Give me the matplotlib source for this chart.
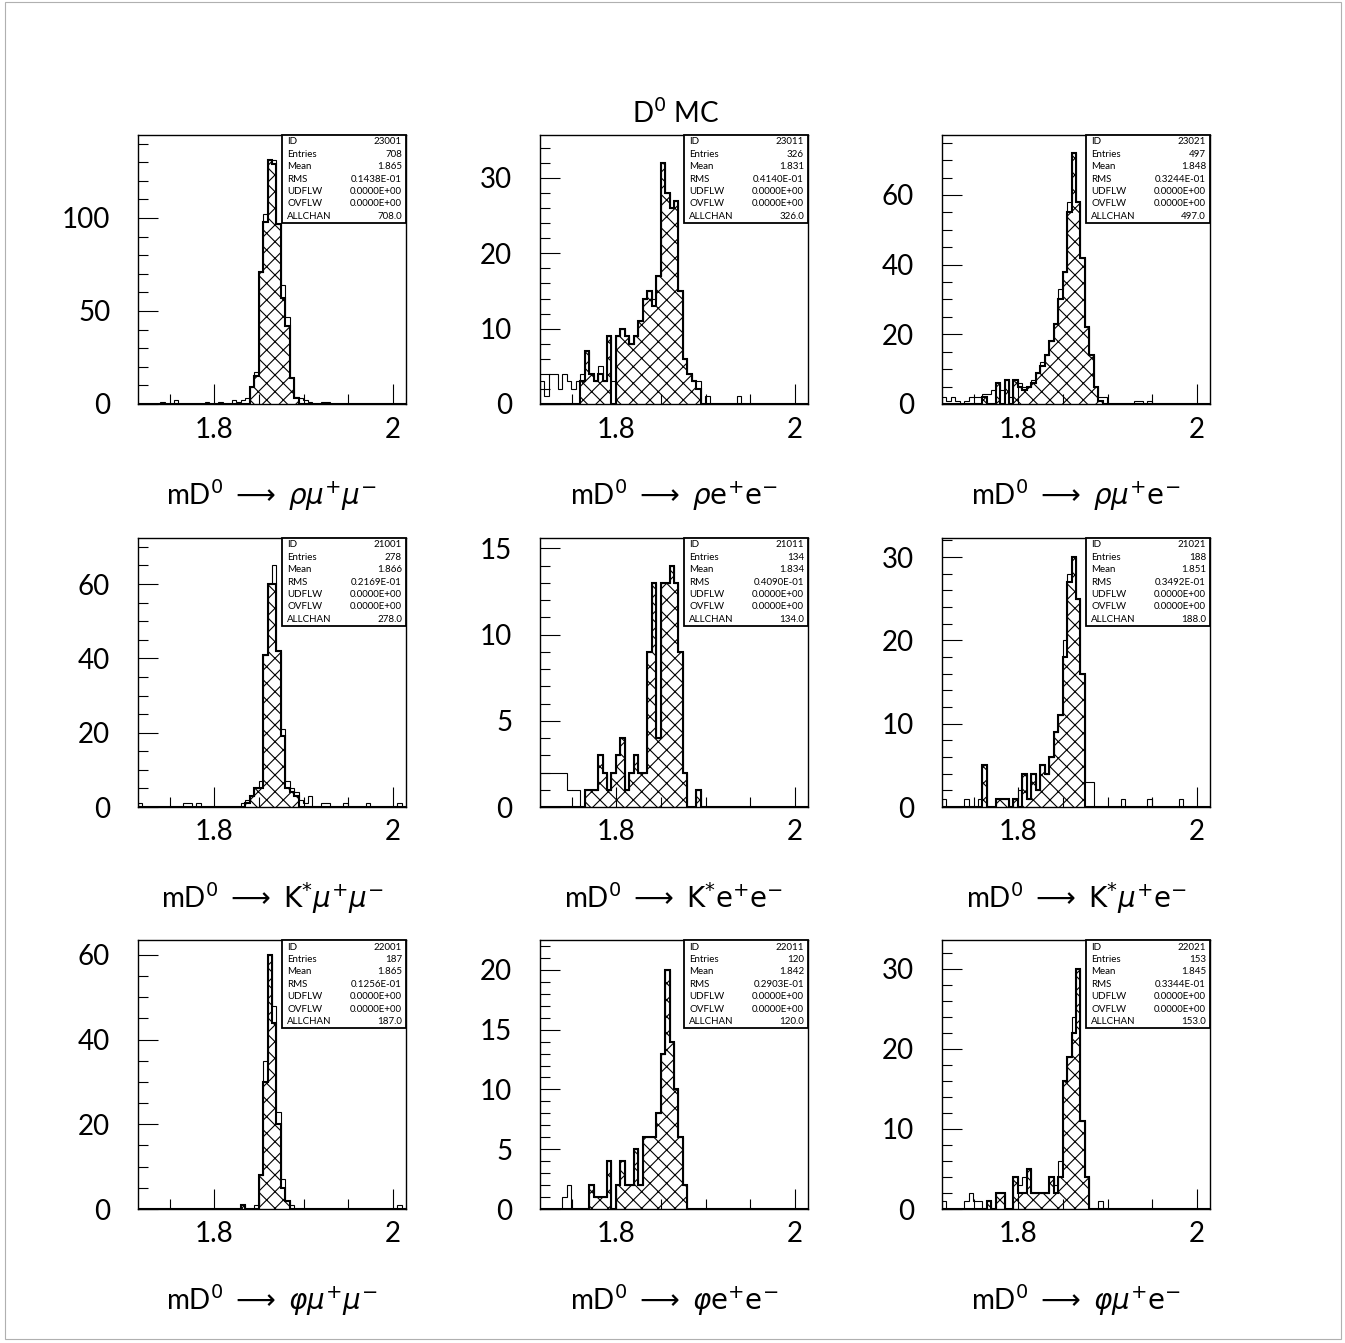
import numpy as np
import matplotlib
matplotlib.use('Agg')
import matplotlib.pyplot as plt
from matplotlib.patches import Rectangle
from matplotlib.ticker import MultipleLocator, FuncFormatter

plt.rcParams['font.family'] = ['Lato', 'DejaVu Sans']
plt.rcParams['mathtext.fontset'] = 'dejavusans'
plt.rcParams['hatch.linewidth'] = 0.8

# mD0 window: 60 bins of 5 MeV, centred on 1.8645
x_lo, x_hi, n_bins = 1.7145, 2.0145, 60

# --- D0 -> rho l l -----------------------------------------------------------
p1_tot = [0, 0, 0, 0, 0, 1, 0, 0, 2, 0,
          0, 0, 0, 0, 0, 1, 0, 0, 1, 0,
          0, 2, 1, 2, 3, 9, 17, 71, 102, 131,
          131, 97, 64, 47, 14, 4, 3, 2, 1, 0,
          0, 1, 1, 0, 0, 0, 0, 0, 0, 0,
          0, 0, 0, 0, 0, 0, 0, 0, 0, 0]
p1_sel = [0] * 20 + [0, 0, 0, 0, 0, 9, 15, 71, 98, 131,
                     129, 97, 57, 42, 14, 3, 0, 0, 0, 0] + [0] * 20

p2_tot = [3, 1, 4, 4, 2, 4, 3, 2, 3, 4,
          7, 4, 3, 5, 3, 9, 3, 9, 10, 9,
          8, 9, 11, 14, 15, 14, 17, 32, 28, 26,
          27, 15, 6, 4, 3, 3, 0, 1, 0, 0,
          0, 0, 0, 0, 1, 0, 0, 0, 0, 0,
          0, 0, 0, 0, 0, 0, 0, 0, 0, 0]
p2_sel = [0, 0, 0, 0, 0, 0, 0, 0, 0, 3,
          7, 4, 3, 4, 3, 9, 0, 9, 10, 9,
          8, 9, 11, 14, 15, 13, 17, 32, 28, 26,
          27, 15, 6, 4, 3, 2, 0, 0, 0, 0] + [0] * 20

p3_tot = [2, 1, 2, 1, 0, 1, 2, 2, 2, 3,
          3, 4, 6, 4, 7, 2, 7, 6, 5, 5,
          7, 9, 12, 14, 18, 23, 33, 38, 58, 72,
          58, 42, 22, 14, 5, 2, 2, 0, 0, 0,
          0, 0, 0, 1, 1, 0, 1, 0, 0, 0,
          0, 0, 0, 0, 0, 0, 0, 0, 0, 0]
p3_sel = [0, 0, 0, 0, 0, 0, 0, 0, 0, 2,
          0, 0, 6, 0, 7, 0, 7, 5, 4, 5,
          6, 9, 11, 14, 18, 23, 30, 38, 55, 72,
          58, 42, 22, 14, 5, 1, 0, 0, 0, 0] + [0] * 20

# --- D0 -> K* l l ------------------------------------------------------------
p4_tot = [1, 0, 0, 0, 0, 0, 0, 0, 0, 0,
          1, 1, 0, 1, 0, 0, 0, 0, 0, 0,
          0, 0, 0, 1, 2, 3, 5, 7, 41, 60,
          65, 42, 21, 7, 5, 4, 2, 1, 3, 0,
          0, 1, 1, 0, 0, 0, 1, 0, 0, 0,
          0, 1, 0, 0, 0, 0, 0, 0, 1, 0]
p4_sel = [0] * 20 + [0, 0, 0, 0, 1, 3, 5, 5, 41, 60,
                     60, 42, 19, 5, 4, 3, 0, 0, 0, 0] + [0] * 20

p5_tot = [2, 2, 2, 2, 2, 2, 1, 1, 1, 0,
          1, 1, 1, 3, 2, 1, 2, 3, 4, 1,
          2, 3, 2, 2, 9, 13, 4, 13, 13, 14,
          13, 9, 2, 0, 0, 1, 0, 0, 0, 0] + [0] * 20
p5_sel = [0] * 10 + p5_tot[10:]

p6_tot = [1, 0, 0, 0, 0, 1, 0, 0, 1, 5,
          0, 0, 1, 1, 1, 0, 1, 2, 4, 1,
          4, 2, 5, 4, 6, 9, 11, 20, 28, 30,
          25, 16, 3, 3, 0, 0, 0, 0, 0, 0,
          1, 0, 0, 0, 0, 0, 1, 0, 0, 0,
          0, 0, 0, 1, 0, 0, 0, 0, 0, 0]
p6_sel = [0, 0, 0, 0, 0, 0, 0, 0, 0, 5,
          0, 0, 1, 1, 1, 0, 1, 0, 4, 1,
          4, 2, 5, 4, 6, 9, 11, 18, 27, 30,
          25, 16, 0, 0, 0, 0, 0, 0, 0, 0] + [0] * 20

# --- D0 -> phi l l -----------------------------------------------------------
p7_tot = [0] * 20 + [0, 0, 0, 1, 0, 0, 1, 8, 35, 60,
                     48, 23, 7, 2, 1, 0, 0, 0, 0, 0] + [0] * 10 + \
         [0, 0, 0, 0, 0, 0, 0, 0, 1, 0]
p7_sel = [0] * 20 + [0, 0, 0, 1, 0, 0, 0, 8, 30, 60,
                     44, 20, 5, 2, 0, 0, 0, 0, 0, 0] + [0] * 20

p8_tot = [0, 0, 0, 0, 0, 1, 2, 0, 0, 0,
          0, 2, 1, 1, 1, 4, 0, 2, 4, 2,
          2, 5, 2, 6, 6, 6, 8, 13, 20, 14,
          10, 6, 2, 0, 0, 0, 0, 0, 0, 0] + [0] * 20
p8_sel = [0] * 10 + p8_tot[10:]

p9_tot = [1, 0, 0, 0, 0, 1, 2, 1, 1, 0,
          1, 0, 2, 2, 0, 0, 4, 3, 4, 5,
          2, 2, 2, 2, 4, 3, 6, 16, 19, 24,
          30, 11, 4, 0, 0, 1, 0, 0, 0, 0] + [0] * 20
p9_sel = [0] * 10 + [1, 0, 2, 2, 0, 0, 4, 2, 2, 5,
                     2, 2, 2, 2, 4, 2, 4, 16, 19, 22,
                     30, 11, 4, 0, 0, 0, 0, 0, 0, 0] + [0] * 20

# HBOOK statistics boxes
hist_id = ['23001', '23011', '23021', '21001', '21011', '21021', '22001', '22011', '22021']
entries = ['708', '326', '497', '278', '134', '188', '187', '120', '153']
means = ['1.865', '1.831', '1.848', '1.866', '1.834', '1.851', '1.865', '1.842', '1.845']
rms = ['0.1438E-01', '0.4140E-01', '0.3244E-01', '0.2169E-01', '0.4090E-01',
       '0.3492E-01', '0.1256E-01', '0.2903E-01', '0.3344E-01']
allchan = ['708.0', '326.0', '497.0', '278.0', '134.0', '188.0', '187.0', '120.0', '153.0']

labels = [r'$\rho\mu^{+}\mu^{-}$', r'$\rho \mathrm{e}^{+}\mathrm{e}^{-}$', r'$\rho\mu^{+}\mathrm{e}^{-}$',
          r'$\mathrm{K}^{*}\mu^{+}\mu^{-}$', r'$\mathrm{K}^{*}\mathrm{e}^{+}\mathrm{e}^{-}$',
          r'$\mathrm{K}^{*}\mu^{+}\mathrm{e}^{-}$',
          r'$\varphi\mu^{+}\mu^{-}$', r'$\varphi \mathrm{e}^{+}\mathrm{e}^{-}$', r'$\varphi\mu^{+}\mathrm{e}^{-}$']

tots = [p1_tot, p2_tot, p3_tot, p4_tot, p5_tot, p6_tot, p7_tot, p8_tot, p9_tot]
sels = [p1_sel, p2_sel, p3_sel, p4_sel, p5_sel, p6_sel, p7_sel, p8_sel, p9_sel]

# axis scale per panel: (ymax, major step, minor step)
yscale = [(144.6, 50, 10), (35.7, 10, 2), (77.2, 20, 5),
          (72.4, 20, 5), (15.6, 5, 1), (32.3, 10, 2),
          (63.5, 20, 5), (22.5, 5, 1), (33.6, 10, 2)]

W, H = 1345, 1343
fig = plt.figure(figsize=(W / 100, H / 100), dpi=100)
fig.patch.set_facecolor('white')

col_x = [138, 540, 942]
row_y = [135, 538, 940]
aw, ah = 268, 269
edges = np.linspace(x_lo, x_hi, n_bins + 1)
fs = 20

for k in range(9):
    r, c = divmod(k, 3)
    ax = fig.add_axes([col_x[c] / W, 1 - (row_y[r] + ah) / H, aw / W, ah / H])
    ymax, ymaj, ymin = yscale[k]

    ax.stairs(tots[k], edges, color='black', lw=0.8, baseline=0, zorder=2)
    ax.stairs(sels[k], edges, fill=True, facecolor='none', edgecolor='black',
              hatch='xx', lw=1.5, baseline=0, zorder=2.5)

    ax.set_xlim(x_lo, x_hi)
    ax.set_ylim(0, ymax)
    ax.xaxis.set_major_locator(MultipleLocator(0.2))
    ax.xaxis.set_minor_locator(MultipleLocator(0.05))
    ax.xaxis.set_major_formatter(FuncFormatter(lambda v, p: '%g' % round(v, 3)))
    ax.yaxis.set_major_locator(MultipleLocator(ymaj))
    ax.yaxis.set_minor_locator(MultipleLocator(ymin))
    ax.tick_params(which='both', direction='in', top=False, right=False, width=0.8)
    ax.tick_params(which='major', length=14.5)
    ax.tick_params(which='minor', length=7.5)
    ax.tick_params(axis='y', which='major', pad=20, labelsize=fs)
    ax.tick_params(axis='x', which='major', pad=9, labelsize=fs)
    for sp in ax.spines.values():
        sp.set_linewidth(1.0)

    # statistics box
    bx0, by0 = 144 / aw, 1 - 88 / ah
    ax.add_patch(Rectangle((bx0, by0), 1 - bx0, 1 - by0, transform=ax.transAxes,
                           facecolor='white', edgecolor='black', lw=1.3, zorder=5,
                           clip_on=False))
    names = ['ID', 'Entries', 'Mean', 'RMS', 'UDFLW', 'OVFLW', 'ALLCHAN']
    vals = [hist_id[k], entries[k], means[k], rms[k], '0.0000E+00', '0.0000E+00', allchan[k]]
    for j in range(7):
        yy = 1 - (7 + 12.4 * j) / ah
        ax.text(bx0 + 5 / aw, yy, names[j], transform=ax.transAxes, fontsize=7,
                ha='left', va='center', zorder=6)
        ax.text(1 - 4 / aw, yy, vals[j], transform=ax.transAxes, fontsize=7,
                ha='right', va='center', zorder=6)

    # axis title below each panel
    fig.text((col_x[c] + aw / 2) / W, 1 - (row_y[r] + 360) / H,
             r'mD$^{0}$ $\longrightarrow$ ' + labels[k],
             ha='center', va='center', fontsize=fs)

fig.text(676 / W, 1 - 113 / H, r'D$^{0}$ MC', ha='center', va='center', fontsize=fs)

# page frame
fig.add_artist(Rectangle((5 / W, 1 - 1339 / H), 1336 / W, 1337 / H, transform=fig.transFigure,
                         facecolor='none', edgecolor='#b0b0b0', lw=0.8))

fig.savefig('out.png', dpi=100)
